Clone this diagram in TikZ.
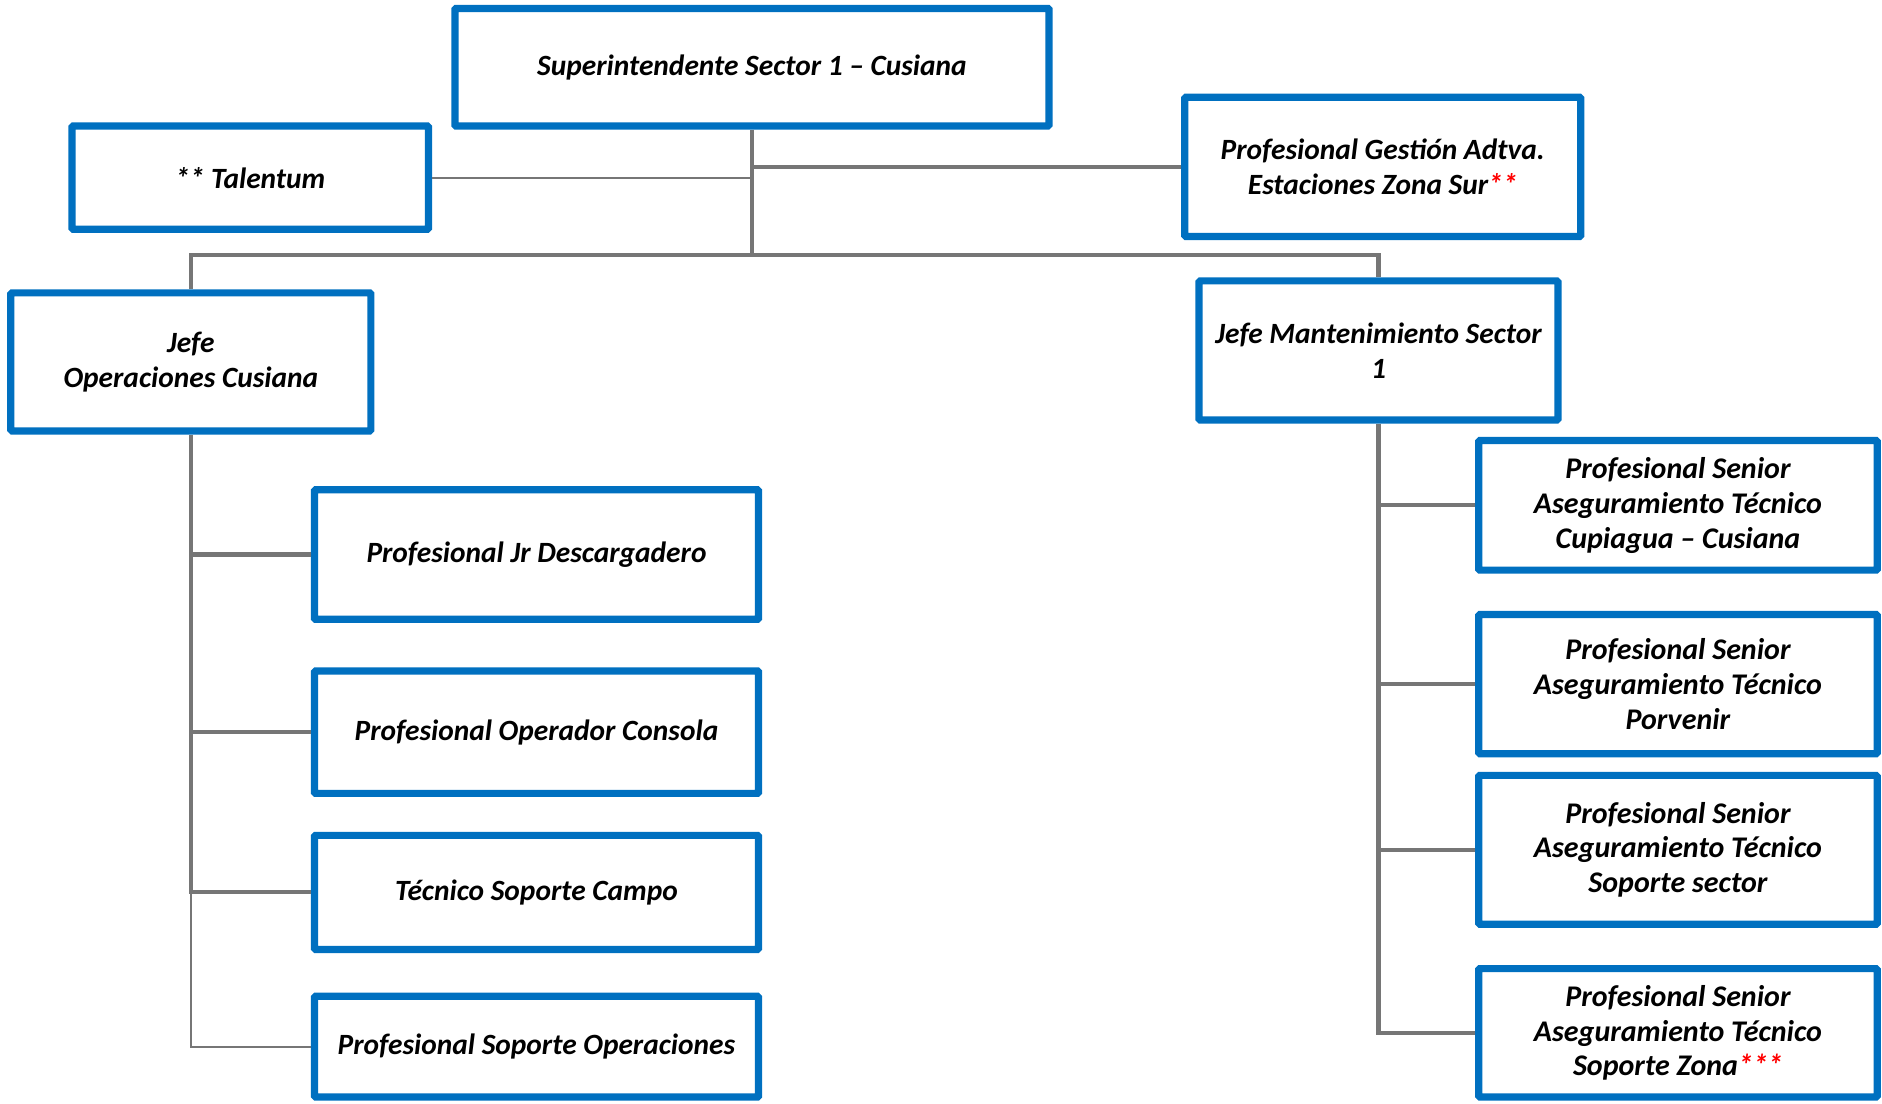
\documentclass[tikz,border=0pt]{standalone}
\usepackage{fontspec}
\setmainfont{Carlito}
\definecolor{boxblue}{RGB}{0,112,192}
\definecolor{conngray}{RGB}{118,118,118}
\definecolor{starred}{RGB}{255,0,0}
\newcommand{\obox}[7][]{%
  \node[orgbox,#1,
        minimum width={(#5-#3-6)*1pt},
        minimum height={(#6-#4-6)*1pt}]
        (#2) at ({(#3+#5)/2},{(#4+#6)/2}) {#7};}
\newcommand{\stars}[1]{\textcolor{starred}{#1}}
\begin{document}
\begin{tikzpicture}[x=1pt,y=-1pt,
  orgbox/.style={draw=boxblue, line width=6pt, fill=white, align=center,
    inner sep=0pt, rounded corners=1pt,
    font=\fontsize{24.5}{29}\selectfont\bfseries\itshape},
  widetext/.style={font=\fontsize{25}{29}\selectfont\bfseries\itshape},
  conn/.style={draw=conngray, line width=3.4pt},
  thinconn/.style={draw=conngray, line width=1.7pt}]
\useasboundingbox (0,0) rectangle (1568,919);

% top level
\obox{super}{376}{4}{877}{108}{Superintendente Sector 1 – Cusiana}
\obox{talentum}{57}{102}{360}{194}{** Talentum}
\obox{gestion}{984}{78}{1320}{200}{Profesional Gestión Adtva.\\Estaciones Zona Sur\stars{**}}
\obox{jops}{6}{241}{312}{362}{Jefe\\Operaciones Cusiana}
\obox{jmant}{996}{231}{1301}{353}{Jefe Mantenimiento Sector\\1}

% left children
\obox{jr}{259}{405}{635}{519}{Profesional Jr Descargadero}
\obox{op}{259}{556}{635}{664}{Profesional Operador Consola}
\obox{tec}{259}{693}{635}{794}{Técnico Soporte Campo}
\obox{sops}{259}{827}{635}{917}{Profesional Soporte Operaciones}

% right children
\obox[widetext]{cup}{1229}{364}{1567}{478}{Profesional Senior\\Aseguramiento Técnico\\Cupiagua – Cusiana}
\obox[widetext]{por}{1229}{509}{1567}{631}{Profesional Senior\\Aseguramiento Técnico\\Porvenir}
\obox[widetext]{ssec}{1229}{643}{1567}{773}{Profesional Senior\\Aseguramiento Técnico\\Soporte sector}
\obox[widetext]{zona}{1229}{804}{1567}{917}{Profesional Senior\\Aseguramiento Técnico\\Soporte Zona\stars{***}}

% connectors
\coordinate (bar) at (626.5,212.5);
\draw[conn] (super.south) -- (bar);
\draw[conn] (super.south |- gestion.west) -- (gestion.west);
\draw[thinconn] (talentum.east) -- (talentum.east -| super.south);
\draw[conn] (jops.north) |- (bar) -| (jmant.north);

\draw[conn] (jops.south) |- (tec.west);
\draw[conn] (jops.south |- jr.west) -- (jr.west);
\draw[conn] (jops.south |- op.west) -- (op.west);
\draw[thinconn] (jops.south |- tec.west) |- (sops.west);

\draw[conn] (jmant.south) |- (zona.west);
\draw[conn] (jmant.south |- cup.west) -- (cup.west);
\draw[conn] (jmant.south |- por.west) -- (por.west);
\draw[conn] (jmant.south |- ssec.west) -- (ssec.west);
\end{tikzpicture}
\end{document}
